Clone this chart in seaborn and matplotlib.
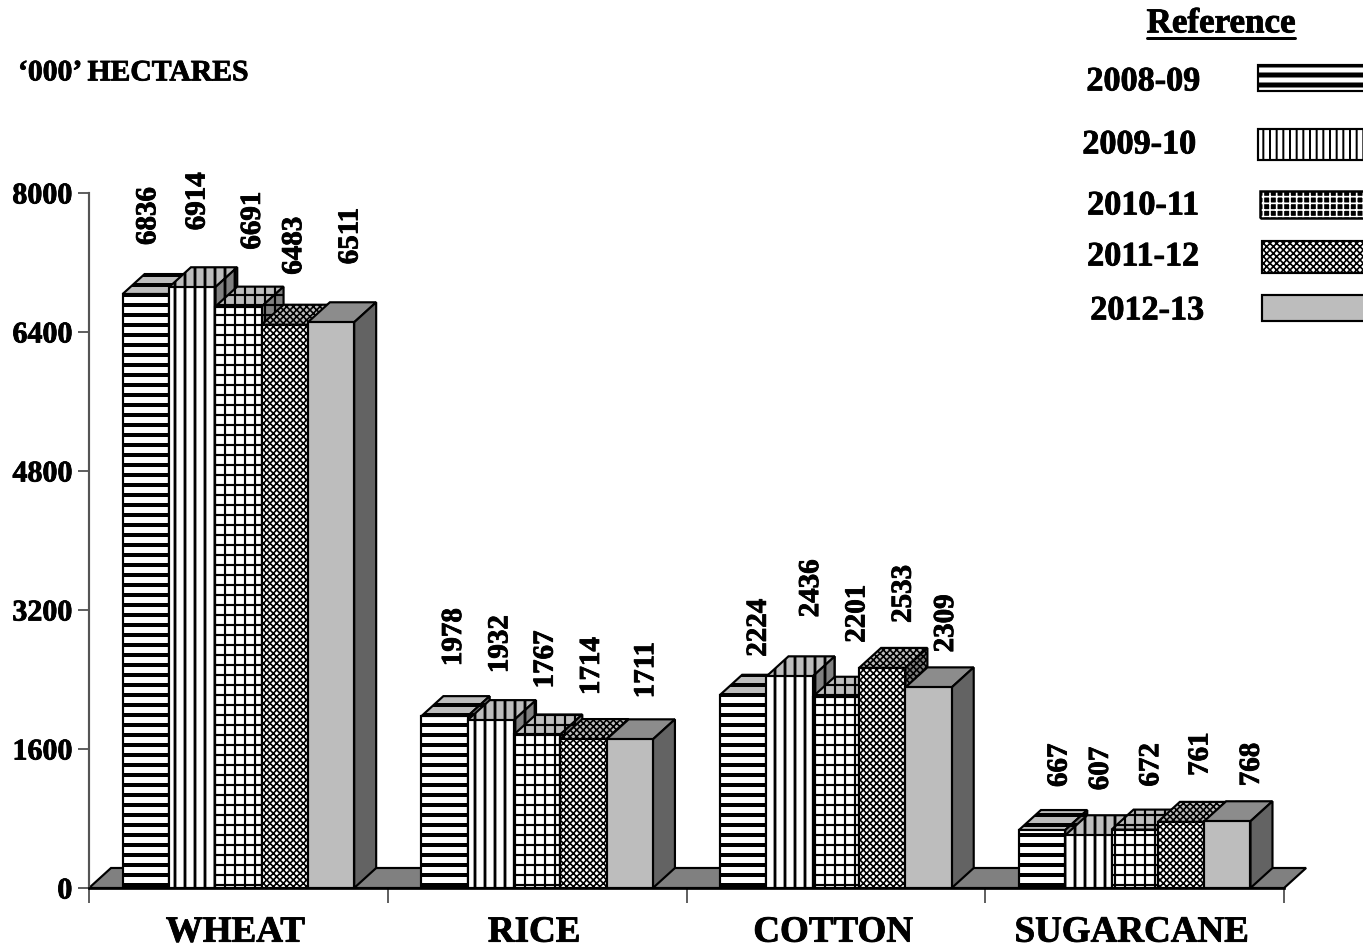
import numpy as np
import pandas as pd
import matplotlib
matplotlib.use('Agg')
import matplotlib.pyplot as plt
import matplotlib.patheffects as pe
from matplotlib.patches import Polygon, Rectangle
from matplotlib.lines import Line2D
from matplotlib.text import Text
from matplotlib.transforms import ScaledTranslation
import seaborn as sns

# =============================================================================
# DATA
# =============================================================================
crops = ['WHEAT', 'RICE', 'COTTON', 'SUGARCANE']
years = ['2008-09', '2009-10', '2010-11', '2011-12', '2012-13']

area_2008 = [6836, 1978, 2224, 667]
area_2009 = [6914, 1932, 2436, 607]
area_2010 = [6691, 1767, 2201, 672]
area_2011 = [6483, 1714, 2533, 761]
area_2012 = [6511, 1711, 2309, 768]

y_ticks = [0, 1600, 3200, 4800, 6400, 8000]

df = pd.DataFrame({
    'crop': crops * 5,
    'year': np.repeat(years, 4),
    'area': area_2008 + area_2009 + area_2010 + area_2011 + area_2012,
})

# =============================================================================
# STYLE
# =============================================================================
W, H, DPI = 1363, 947, 120

sns.set_style('white')
plt.rcParams['font.family'] = ['Liberation Serif', 'DejaVu Serif']
plt.rcParams['font.weight'] = 'bold'
plt.rcParams['text.color'] = 'black'
plt.rcParams['xtick.labelcolor'] = 'black'
plt.rcParams['ytick.labelcolor'] = 'black'

# hatch, hatch line width, front / top / side colours
estilos = [
    ('--', 2.4, 'white', '#bdbdbd', '#808080'),
    ('||', 1.7, 'white', '#bdbdbd', '#808080'),
    ('++', 1.3, 'white', '#bdbdbd', '#808080'),
    ('xxxxxx', 1.0, 'white', '#bdbdbd', '#808080'),
    ('', 1.0, '#bdbdbd', '#8c8c8c', '#636363'),
]

# label offsets from the bar top centre, in pixels, per year then crop
label_dx = [[2, 9, 15, 17], [5, 9, 21, 12], [14, 8, 21, 16], [9, 8, 21, 19], [19, 16, 17, 24]]
label_dy = [[49, 50, 38, 43], [57, 47, 59, 45], [57, 46, 54, 43], [50, 44, 45, 46], [58, 41, 35, 35]]

# =============================================================================
# FIGURE
# =============================================================================
fig = plt.figure(figsize=((W + 0.1) / DPI, (H + 0.1) / DPI), dpi=DPI)
ax = fig.add_axes([89 / W, 1 - 888 / H, (1284 - 89) / W, (888 - 193) / H])

sns.barplot(
    data=df, x='crop', y='area', hue='year', order=crops, hue_order=years,
    width=0.775, gap=0, saturation=1, legend=False, ax=ax
)

ax.set_xlim(-0.5, 3.5)
ax.set_ylim(0, 8000)
ax.set_xlabel('')
ax.set_ylabel('')

# depth of the 3D look, in data units
dx = 22 / (1195 / 4)
dy = 20 / (695 / 8000)

# floor
ax.add_patch(Polygon(
    [(-0.5, 0), (-0.5 + dx, dy), (3.5 + dx, dy), (3.5, 0)],
    closed=True, facecolor='#808080', edgecolor='black', linewidth=1.3,
    clip_on=False, zorder=1
))

# bars with top and side faces
for i, (cont, est) in enumerate(zip(ax.containers, estilos)):
    hatch, hlw, front, top, side = est
    for j, bar in enumerate(cont.patches):
        z = 3 + j * 10 + i
        x0, w, h = bar.get_x(), bar.get_width(), bar.get_height()
        x1 = x0 + w

        bar.set(facecolor=front, edgecolor='black', linewidth=1.3, hatch=hatch, zorder=z + 0.2)
        bar.set_hatch_linewidth(hlw)

        cara_top = Polygon(
            [(x0, h), (x0 + dx, h + dy), (x1 + dx, h + dy), (x1, h)],
            closed=True, facecolor=top, edgecolor='black', linewidth=1.3,
            hatch=hatch, clip_on=False, zorder=z
        )
        cara_side = Polygon(
            [(x1, 0), (x1 + dx, dy), (x1 + dx, h + dy), (x1, h)],
            closed=True, facecolor=side, edgecolor='black', linewidth=1.3,
            hatch=hatch, clip_on=False, zorder=z + 0.1
        )
        for cara in (cara_top, cara_side):
            cara.set_hatch_linewidth(hlw)
            ax.add_patch(cara)

        ax.annotate(
            f'{int(h)}', xy=(x0 + w / 2, h),
            xytext=(label_dx[i][j], label_dy[i][j]), textcoords='offset pixels',
            rotation=90, ha='center', va='bottom', fontsize=17.4,
            fontweight='bold', annotation_clip=False, zorder=100
        )

# axes
sns.despine(ax=ax, top=True, right=True)
ax.spines['left'].set(color='#555555', linewidth=1.3)
ax.spines['bottom'].set(color='black', linewidth=1.6, zorder=90)

ax.set_yticks(y_ticks)
ax.set_yticklabels([str(v) for v in y_ticks], fontsize=18, fontweight='bold')
ax.tick_params(axis='y', left=True, length=6.6, width=1.1, color='#555555', pad=3.4)

ax.set_xticks(np.arange(-0.5, 4, 1), minor=True)
ax.set_xticks(range(4))
ax.set_xticklabels(crops, fontsize=22.2, fontweight='bold')
ax.tick_params(axis='x', which='major', bottom=False, length=0, pad=16)
ax.tick_params(axis='x', which='minor', bottom=True, length=9, width=1.1, color='#555555')

desplaza = ScaledTranslation(-3 / DPI, 0, fig.dpi_scale_trans)
for lbl in ax.get_xticklabels():
    lbl.set_transform(lbl.get_transform() + desplaza)

# texts
fig.text(18 / W, 1 - 73 / H, '‘000’ HECTARES', fontsize=17.8, fontweight='bold', va='center')

# legend
fig.text(1221 / W, 1 - 24 / H, 'Reference', fontsize=21, fontweight='bold', ha='center', va='center')
fig.add_artist(Line2D([1147 / W, 1295 / W], [1 - 38 / H, 1 - 38 / H], color='black', linewidth=1.8))

legend_text = [(1143, 82), (1139, 145), (1143, 206), (1143, 257), (1147, 311)]
legend_box = [(1258, 65, 91), (1258, 129, 160), (1260, 191, 218), (1262, 241, 273), (1262, 295, 321)]
legend_hatch = [
    ('--', 3.0, 'white'), ('|||', 1.2, 'white'), (None, 0, 'white'),
    ('xxxxxx', 1.0, 'white'), ('', 1, '#bdbdbd'),
]

for year, (tx, ty), (bx, by0, by1), (hatch, hlw, color) in zip(years, legend_text, legend_box, legend_hatch):
    fig.text(tx / W, 1 - ty / H, year, fontsize=20.5, fontweight='bold', ha='center', va='center')

    rect = dict(xy=(bx / W, 1 - by1 / H), width=(W + 10 - bx) / W, height=(by1 - by0) / H,
                transform=fig.transFigure, clip_on=True)
    if hatch is None:
        # black cells with a thin white grid, then the outline
        fondo = Rectangle(facecolor='black', edgecolor='white', hatch='+++', linewidth=0, **rect)
        fondo.set_hatch_linewidth(1.0)
        fig.add_artist(fondo)
        fig.add_artist(Rectangle(facecolor='none', edgecolor='black', linewidth=1.5, **rect))
    else:
        caja = Rectangle(facecolor=color, edgecolor='black', hatch=hatch, linewidth=1.3, **rect)
        caja.set_hatch_linewidth(hlw)
        fig.add_artist(caja)

# the reference text is heavier than plain bold
for t in fig.findobj(Text):
    t.set_path_effects([pe.withStroke(linewidth=0.5, foreground='black')])

plt.savefig('out.png', dpi=DPI)
